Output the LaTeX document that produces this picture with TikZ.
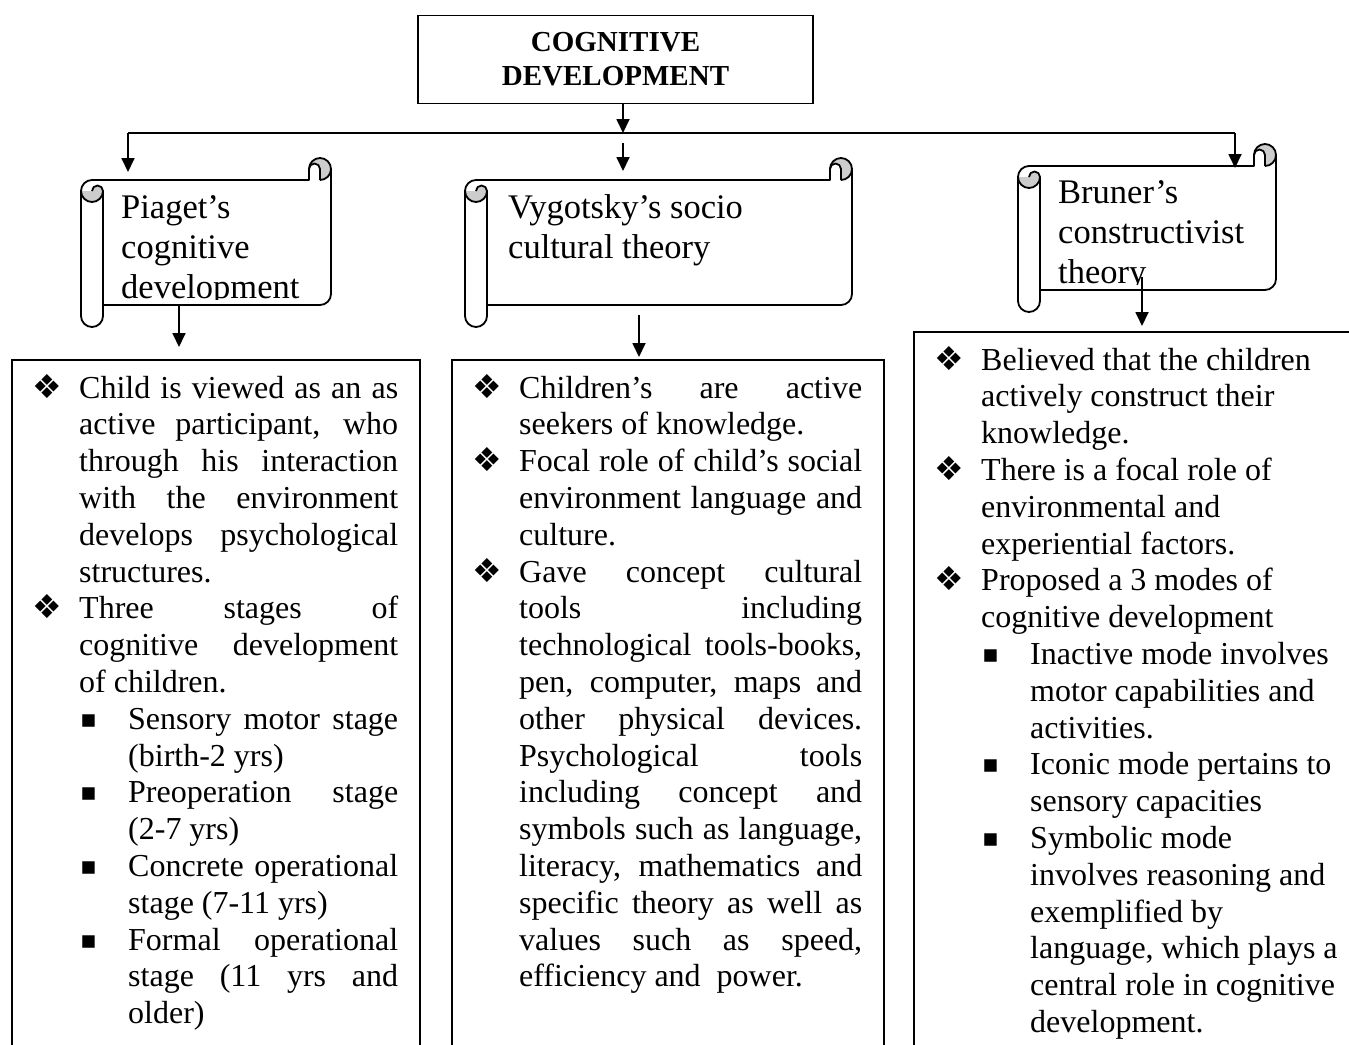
\documentclass[tikz,border=0pt]{standalone}
\usepackage{fontspec}
\setmainfont{Liberation Serif}
\newfontfamily\symfont{DejaVu Sans}
\usetikzlibrary{arrows.meta}

\hbadness=10000 \tolerance=10000 \hyphenpenalty=10000 \exhyphenpenalty=10000
\newcommand\bul{\hspace*{-3pt}{\symfont\fontsize{33}{33}\selectfont ❖}}
\newcommand\sqb{\hspace*{-2pt}\raisebox{2pt}{\symfont\fontsize{25}{25}\selectfont ▪}}
\newcommand\itA[1]{\par\noindent\hangindent=44pt\hangafter=1\makebox[44pt][l]{\bul}#1\par}
\newcommand\itB[1]{\par\noindent\hangindent=93pt\hangafter=1\hspace*{47pt}\makebox[46pt][l]{\sqb}#1\par}

% scroll: #1=L #2=T #3=R #4=B  (roll size 22)
\newcommand\drawscroll[4]{%
  \fill[white] ({#1},{#2+33}) arc[start angle=180,end angle=270,radius=11]
     -- ({#3-22},{#2+22}) -- ({#3-22},{#2+11}) arc[start angle=180,end angle=360,radius=11]
     -- ({#3},{#4-33}) arc[start angle=0,end angle=90,radius=11]
     -- ({#1+22},{#4-22}) -- ({#1+22},{#4-11}) arc[start angle=0,end angle=180,radius=11] -- cycle;
  \fill[curl] ({#3-11},{#2+11}) circle[radius=11];
  \fill[curl] ({#1},{#2+33}) arc[start angle=180,end angle=0,radius=11]
     arc[start angle=0,end angle=-180,radius=5.5] -- cycle;
  \draw[scrollline] ({#1},{#2+33}) arc[start angle=180,end angle=270,radius=11]
     -- ({#3-22},{#2+22}) -- ({#3-22},{#2+11}) arc[start angle=180,end angle=360,radius=11]
     -- ({#3},{#4-33}) arc[start angle=0,end angle=90,radius=11]
     -- ({#1+22},{#4-22}) -- ({#1+22},{#4-11}) arc[start angle=0,end angle=180,radius=11] -- cycle;
  \filldraw[scrollline,fill=white] ({#3-22},{#2+22}) -- ({#3-22},{#2+11})
     arc[start angle=180,end angle=360,radius=5.5] -- ({#3-11},{#2+22});
  \draw[scrollline] ({#3},{#2+11}) arc[start angle=0,end angle=90,radius=11];
  \draw[scrollline] ({#1},{#2+33}) arc[start angle=180,end angle=0,radius=11]
     arc[start angle=0,end angle=-180,radius=5.5];
  \draw[scrollline] ({#1+22},{#2+33}) -- ({#1+22},{#4-22});
}

\begin{document}
\begin{tikzpicture}[x=1pt,y=-1pt,
  arr/.style={-{Triangle[length=14pt,width=13pt]}, line width=1.8pt},
  conn/.style={line width=1.8pt},
  scrollline/.style={line width=1.8pt, line join=round},
  curl/.style={fill=gray!40},
  cbox/.style={draw, line width=1.8pt, anchor=north west, inner sep=0pt},
  titlebox/.style={draw, line width=1.8pt, minimum width=395pt, minimum height=88pt, inner sep=0pt,
     align=center, font=\fontsize{29}{34}\selectfont\bfseries},
  scrolltext/.style={anchor=base west, inner sep=0pt, font=\fontsize{34.5}{40}\selectfont},
  bodytext/.style={anchor=base west, inner sep=0pt, font=\fontsize{32}{36.8}\selectfont}]
\useasboundingbox (0,0) rectangle (1349,1044);
\clip (0,0) rectangle (1349,1044);
\fill[white] (0,0) rectangle (1349,1044);

% title
\node[titlebox] (title) at (615.5,59.5) {COGNITIVE\\DEVELOPMENT};

% junction coordinates
\coordinate (jM) at (623,133);
\coordinate (jL) at (128,133);
\coordinate (jR) at (1235,133);
\coordinate (mStart) at (623,143);
\coordinate (piaIn) at (128,172);
\coordinate (vygIn) at (623,171);
\coordinate (bruIn) at (1235,168);

% scrolls
\drawscroll{81}{158}{331}{327}
\drawscroll{465}{158}{852}{327}
\drawscroll{1018}{144}{1276}{312}

\begin{scope}
  \clip (103,180) rectangle (331,299);
  \node[scrolltext] (piaget) at (121,218) {\parbox[t]{205pt}{Piaget’s\\cognitive\\development}};
\end{scope}
\begin{scope}
  \clip (487,180) rectangle (852,299);
  \node[scrolltext] (vygotsky) at (508,218) {\parbox[t]{340pt}{Vygotsky’s socio\\cultural theory}};
\end{scope}
\begin{scope}
  \clip (1040,166) rectangle (1276,284);
  \node[scrolltext] (bruner) at (1058,203) {\parbox[t]{215pt}{Bruner’s\\constructivist\\theory}};
\end{scope}

% connectors at top
\draw[arr] (title.south -| jM) -- (jM);
\draw[conn] (jL) -- (jR);
\draw[arr] (jL) -- (piaIn);
\draw[arr] (mStart) -- (vygIn);
\draw[arr] (jR) -- (bruIn);

% content boxes
\node[cbox, minimum width=408pt, minimum height=720pt] (boxL) at (11,359) {};
\node[cbox, minimum width=432pt, minimum height=720pt] (boxM) at (451,359) {};
\node[cbox, minimum width=460pt, minimum height=740pt] (boxR) at (913,331) {};

% connectors to boxes
\coordinate (piaOut) at (179,305);
\coordinate (piaTip) at (179,347);
\coordinate (vygOut) at (639,315);
\coordinate (vygTip) at (639,357);
\coordinate (bruOut) at (1142,277);
\coordinate (bruTip) at (1142,326);
\draw[arr] (piaOut) -- (piaTip);
\draw[arr] (vygOut) -- (vygTip);
\draw[arr] (bruOut) -- (bruTip);

% texts
\node[bodytext] (textL) at (35,398) {\parbox[t]{363pt}{%
\itA{Child is viewed as an as\linebreak active participant, who\linebreak through his interaction\linebreak with the environment\linebreak develops psychological\linebreak structures.}
\itA{Three stages of\linebreak cognitive development\linebreak of children.}
\itB{Sensory motor stage\linebreak (birth-2 yrs)}
\itB{Preoperation stage\linebreak (2-7 yrs)}
\itB{Concrete operational\linebreak stage (7-11 yrs)}
\itB{Formal operational\linebreak stage (11 yrs and\linebreak older)}}};

\node[bodytext] (textM) at (475,398) {\parbox[t]{387pt}{%
\itA{Children’s are active\linebreak seekers of knowledge.}
\itA{Focal role of child’s social\linebreak environment language and\linebreak culture.}
\itA{Gave concept cultural\linebreak tools including\linebreak technological tools-books,\linebreak pen, computer, maps and\linebreak other physical devices.\linebreak Psychological tools\linebreak including concept and\linebreak symbols such as language,\linebreak literacy, mathematics and\linebreak specific theory as well as\linebreak values such as speed,\linebreak efficiency and\ \ power.}}};

\node[bodytext] (textR) at (937,370) {\parbox[t]{420pt}{%
\itA{Believed that the children\newline actively construct their\newline knowledge.}
\itA{There is a focal role of\newline environmental and\newline experiential factors.}
\itA{Proposed a 3 modes of\newline cognitive development}
\itB{Inactive mode involves\newline motor capabilities and\newline activities.}
\itB{Iconic mode pertains to\newline sensory capacities}
\itB{Symbolic mode\newline involves reasoning and\newline exemplified by\newline language, which plays a\newline central role in cognitive\newline development.}}};
\end{tikzpicture}
\end{document}
